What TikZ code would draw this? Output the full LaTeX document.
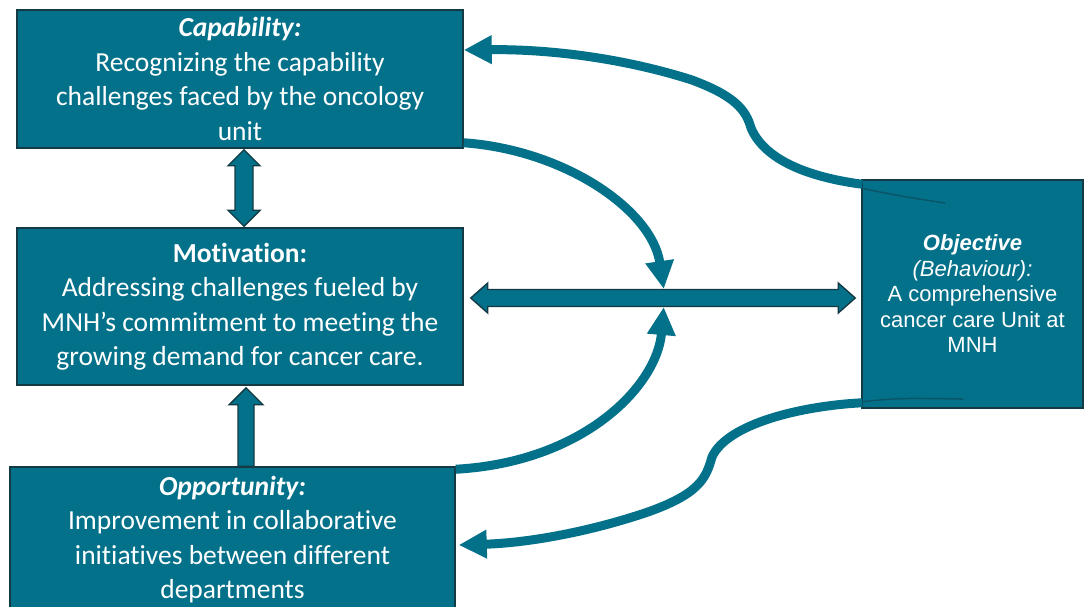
\documentclass[tikz,border=0pt]{standalone}
\usepackage{fontspec}
\setmainfont{Carlito}[Ligatures={CommonOff}]
\newfontfamily\arialf{Liberation Sans}
\usetikzlibrary{arrows.meta,calc}
\definecolor{teal1}{HTML}{03718A}
\definecolor{edge1}{HTML}{143A44}
\definecolor{thinc}{HTML}{0A5668}
\tikzset{
  lbox/.style={draw=edge1, line width=1.5pt, fill=teal1, text=white, align=center,
    inner sep=0pt, font=\fontsize{27.5}{34.5}\selectfont},
  obox/.style={draw=edge1, line width=1.5pt, fill=teal1, text=white, align=center,
    inner sep=0pt, font=\arialf\fontsize{22}{25.5}\selectfont},
  blk/.style={draw=edge1, line width=1.4pt, fill=teal1, line join=miter},
  curv/.style={draw=teal1, line width=9pt, -{Triangle[length=28pt,width=27pt]}},
  thinpart/.style={draw=thinc, line width=1.5pt}
}
\begin{document}
\begin{tikzpicture}[x=1pt,y=-1pt]
\useasboundingbox (0,0) rectangle (1084,606);

\node[lbox, minimum width=446pt, minimum height=138pt] (cap) at (240,79)
  {\textbf{\textit{Capability:}}\\Recognizing the capability\\challenges faced by the oncology\\unit};
\node[lbox, minimum width=446pt, minimum height=157pt] (mot) at (240,306.5)
  {\textbf{Motivation:}\\Addressing challenges fueled by\\MNH{\char"0027}s commitment to meeting the\\growing demand for cancer care.};
\node[lbox, minimum width=445pt, minimum height=145pt] (opp) at (232.5,539.5)
  {\textbf{\textit{Opportunity:}}\\Improvement in collaborative\\initiatives between different\\departments};
\node[obox, minimum width=221pt, minimum height=228pt] (obj) at (972.5,294)
  {\textbf{\textit{Objective}}\\\textit{(Behaviour):}\\A comprehensive\\cancer care Unit at\\MNH};

% vertical double block arrow capability <-> motivation
\coordinate (A) at ($(cap.south)+(4,1)$);
\coordinate (B) at ($(mot.north)+(4,-1)$);
\draw[blk] (A) -- ++(16,16) -- ++(-7,0) -- ($(B)+(9,-16)$) -- ++(7,0) -- (B)
  -- ++(-16,-16) -- ++(7,0) -- ($(A)+(-9,16)$) -- ++(-7,0) -- cycle;

% up block arrow opportunity -> motivation
\coordinate (C) at ($(mot.south)+(6,2)$);
\coordinate (D) at ($(opp.north)+(13.5,0)$);
\draw[blk] (C) -- ++(17,17) -- ++(-9,0) -- ($(D)+(8,0)$) -- ++(-16,0)
  -- ($(C)+(-8,17)$) -- ++(-9,0) -- cycle;

% horizontal double block arrow motivation <-> objective
\coordinate (E) at ($(mot.east)+(7,-8.5)$);
\coordinate (F) at ($(E -| obj.west)+(-6,0)$);
\draw[blk] (E) -- ++(17,-15) -- ++(0,6.5) -- ($(F)+(-17,-8.5)$) -- ++(0,-6.5) -- (F)
  -- ++(-17,15) -- ++(0,-6.5) -- ($(E)+(17,8.5)$) -- ++(0,6.5) -- cycle;
\coordinate (hub) at ($(E)+(193,0)$);

% curved arrows into the hub
\draw[curv] ($(cap.south east)+(0,-6)$) .. controls (565,150) and (652,210) .. ($(hub)+(0,-9)$);
\draw[curv] ($(opp.north east)+(0,3)$) .. controls (585,462) and (657,385) .. ($(hub)+(0,9)$);

% objective -> capability
\draw[thinpart] ($(obj.north west)+(0,9)$) .. controls (900,196) .. (945,203);
\draw[curv] ($(obj.north west)+(1,5)$) .. controls (830,180) and (768,168) .. (751,128)
  .. controls (746,110) and (735,96) .. (692,80)
  .. controls (620,57) and (545,49) .. ($(cap.east)+(0,-29)$);

% objective -> opportunity
\draw[thinpart] ($(obj.south west)+(0,-7)$) .. controls (900,398) .. (963,399);
\draw[curv] ($(obj.south west)+(1,-6)$) .. controls (800,406) and (727,424) .. (712,457)
  .. controls (706,478) and (700,494) .. (645,513)
  .. controls (585,533) and (525,543) .. ($(opp.east)+(3,5.5)$);
\end{tikzpicture}
\end{document}
